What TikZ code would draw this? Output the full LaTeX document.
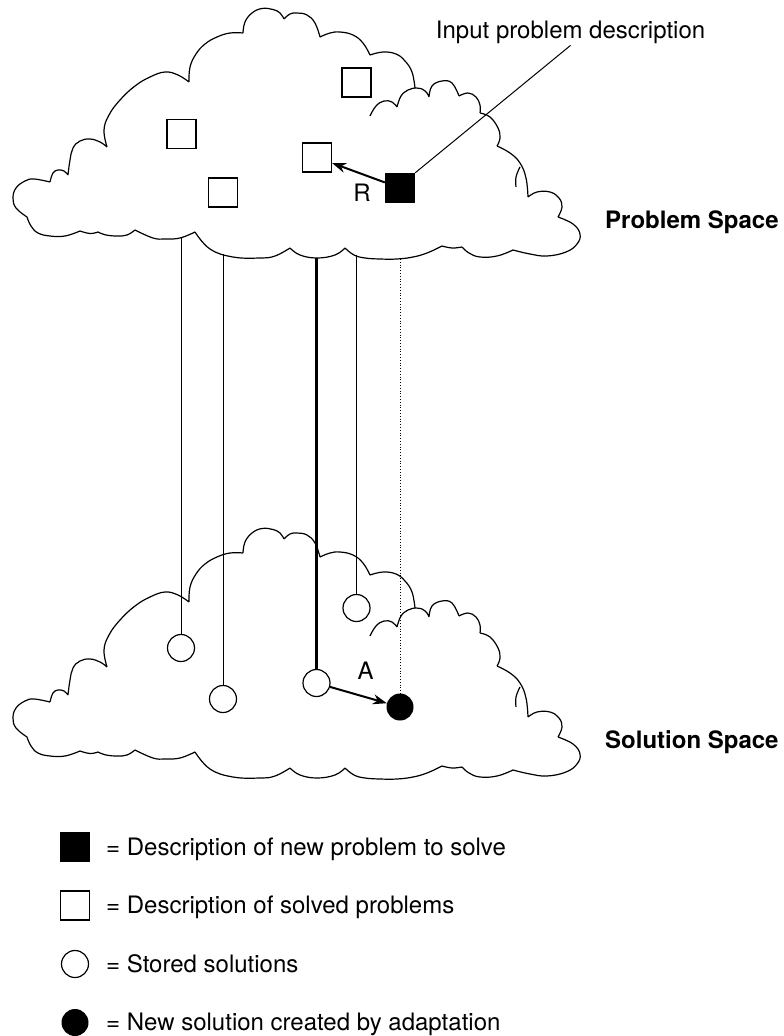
\documentclass[tikz,border=0pt]{standalone}
\usepackage{fontspec}
\setmainfont{TeX Gyre Heros}
\usetikzlibrary{arrows.meta}

\begin{document}
\begin{tikzpicture}[x=1pt, y=-1pt, inner sep=2pt,
    font=\fontsize{24}{28}\selectfont,
    cloudline/.style={line width=1.2pt, line join=round, smooth, tension=0.7},
    probbox/.style={draw, line width=1.2pt, minimum size=29pt, inner sep=0pt},
    newbox/.style={fill=black, minimum size=30pt, inner sep=0pt},
    solcirc/.style={draw, circle, line width=1.2pt, minimum size=27pt, inner sep=0pt},
    newcirc/.style={fill=black, circle, minimum size=27pt, inner sep=0pt},
    link/.style={line width=1pt},
    move/.style={line width=2pt, -{Stealth[length=14pt, width=10pt]}},
    space/.style={anchor=base west, font=\fontsize{24}{28}\selectfont\bfseries}]

    \useasboundingbox (0,0) rectangle (784,1036);

    % Clouds (problem space on top, solution space below)
    \foreach \dy in {0,520} {
      \begin{scope}[shift={(0,\dy)}]
        \draw[cloudline]
          plot coordinates {(27,217) (16,208) (13,198) (16,188) (25,181) (34,179) (50,182)}
          plot coordinates {(50,182) (53,173) (58,170) (64,171) (68,175)}
          plot coordinates {(68,175) (70,160) (73,148) (80,141) (90,139) (100,142) (107,147)}
          plot coordinates {(107,147) (104,130) (109,115) (120,100) (135,86) (150,77) (165,72) (178,75) (189,82)}
          plot coordinates {(189,82) (190,67) (196,54) (205,44) (217,37) (230,33) (243,33)}
          plot coordinates {(243,33) (245,22) (252,13) (262,8.5) (273,9.5) (280,13) (284,19)}
          plot coordinates {(284,19) (290,14) (297,13) (307,15) (315,23) (320,37)}
          plot coordinates {(320,37) (330,33) (340,32) (353,35) (363,43) (370,55)}
          plot coordinates {(370,55) (383,52) (396,54) (405,61) (412,72) (415,88)}
          plot coordinates {(415,88) (422,89) (427,93) (429,97)}
          plot coordinates {(429,97) (432,86) (442,81) (452,83) (459,96)}
          plot coordinates {(459,96) (468,93) (476,97) (480,105) (480,113)}
          plot coordinates {(480,113) (490,117) (498,128) (500,138) (497,146)}
          plot coordinates {(497,146) (510,153) (520,163) (526,178) (528,197)}
          plot coordinates {(528,197) (537,192) (550,192) (559,198) (562,207) (558,217)}
          plot coordinates {(558,217) (573,224) (580,234) (577,244) (566,252) (547,256) (530,254) (513,250)}
          plot coordinates {(513,250) (497,256) (480,257) (469,253) (462,247)}
          plot coordinates {(462,247) (452,248) (442,246)}
          plot coordinates {(442,246) (427,253) (413,257) (397,259) (380,259) (365,258) (354,255) (345,248)}
          plot coordinates {(345,248) (335,255) (317,258) (300,255) (290,248)}
          plot coordinates {(290,248) (275,256) (260,258) (233,257) (210,249) (195,232)}
          plot coordinates {(195,232) (180,238) (165,239) (153,238) (135,230)}
          plot coordinates {(135,230) (127,235) (117,236) (106,235) (98,232)}
          plot coordinates {(98,232) (90,233.5) (80,231)}
          plot coordinates {(80,231) (65,236) (50,236) (38,233) (31,226) (27,217)};
        % overlapping strokes inside the cloud
        \draw[cloudline]
          plot coordinates {(370,116) (376,106) (384,101) (392,102) (397,107)}
          plot coordinates {(397,107) (401,96) (408,90) (415,88)};
        \draw[cloudline] plot coordinates {(516,187) (516,177) (520,167)};
      \end{scope}
    }

    % Problems
    \node[probbox] (sqA) at (181.5,134) {};
    \node[probbox] (sqB) at (223,192.5) {};
    \node[probbox] (sqC) at (317,157.5) {};
    \node[probbox] (sqD) at (356.5,82.5) {};
    \node[newbox] (newp) at (400,188) {};
    \node (lblR) at (362,193) {R};
    \node[anchor=base] (inp) at (570.5,38) {Input problem description};
    \node[space] (probspace) at (603,228) {Problem Space};

    % Solutions
    \node[solcirc] (solA) at (181,648) {};
    \node[solcirc] (solB) at (223,699) {};
    \node[solcirc] (solC) at (316.5,683) {};
    \node[solcirc] (solD) at (356.5,608) {};
    \node[newcirc] (newsol) at (400,707) {};
    \node (lblA) at (365.5,671) {A};
    \node[space] (solspace) at (603,748) {Solution Space};

    % Links between the spaces
    \coordinate (topA) at (181,238);
    \coordinate (topB) at (223,254);
    \coordinate (topC) at (316.5,258);
    \coordinate (topD) at (356.5,255);
    \coordinate (topE) at (400,259);
    \draw[link] (topA) -- (solA.north);
    \draw[link] (topB) -- (solB.north);
    \draw[line width=3pt] (topC) -- (solC.north);
    \draw[link] (topD) -- (solD.north);
    \draw[dotted, line width=0.8pt] (topE) -- (newsol.north);

    % Retrieve and adapt
    \draw[link] (inp.south) -- (newp.north east);
    \draw[move] (newp) -- (sqC);
    \draw[move] (solC) -- (newsol);

    % Legend
    \node[newbox] (leg1) at (75,847) {};
    \node[probbox] (leg2) at (75,905.5) {};
    \node[solcirc] (leg3) at (75,964) {};
    \node[newcirc] (leg4) at (75,1022.5) {};
    \node[anchor=base west] (txt1) at (104,855) {= Description of new problem to solve};
    \node[anchor=base west] (txt2) at (104,913.5) {= Description of solved problems};
    \node[anchor=base west] (txt3) at (104,972) {= Stored solutions};
    \node[anchor=base west] (txt4) at (104,1030.5) {= New solution created by adaptation};

\end{tikzpicture}
\end{document}
